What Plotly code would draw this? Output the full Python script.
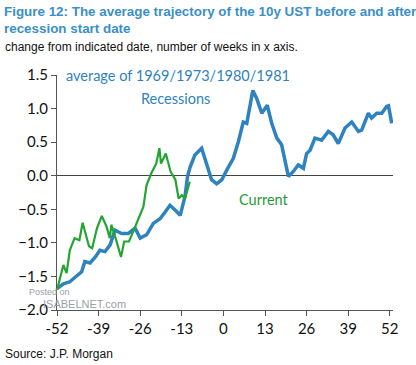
import plotly.graph_objects as go

# Average of 1969/1973/1980/1981 recessions
rec_weeks = [-52, -50, -48, -46, -44.3, -43.3, -41.7, -40, -38.6, -37, -35.4, -33.9, -31.8, -29.7,
             -27.6, -26, -24, -21.9, -19.8, -18.2, -16.7, -15.1, -13.5, -12, -11.2, -10.4, -8.9,
             -6.8, -5.2, -3.7, -2.1, -0.5, 1, 3.1, 4.7, 6.2, 7.3, 9.2, 10.4, 12, 13.7, 15.1, 16.7,
             18.2, 20.3, 21.8, 23.4, 25, 26, 27.1, 28.6, 30.7, 32.8, 34.3, 35.9, 38, 40.1, 42.2,
             43.2, 45.3, 46.3, 47.9, 49.5, 51, 51.6, 52.6]
rec_vals = [-1.68, -1.61, -1.58, -1.50, -1.43, -1.28, -1.30, -1.21, -1.11, -1.13, -1.03, -0.81,
            -0.86, -0.86, -0.78, -0.93, -0.88, -0.71, -0.64, -0.54, -0.44, -0.51, -0.59, -0.31,
            -0.01, 0.13, 0.31, 0.41, 0.18, -0.06, -0.12, -0.06, 0.08, 0.26, 0.51, 0.80, 0.78, 1.27,
            1.15, 0.93, 1.05, 0.78, 0.56, 0.46, -0.01, 0.06, 0.16, 0.11, 0.33, 0.38, 0.56, 0.53,
            0.66, 0.61, 0.48, 0.71, 0.80, 0.66, 0.68, 0.93, 0.86, 0.93, 0.93, 1.03, 1.04, 0.78]

# Current cycle
cur_weeks = [-52, -50, -49, -48, -46.5, -45, -44, -43, -42, -41, -39.5, -38, -36.5, -35.5, -35, -33.5,
             -32, -31, -29.5, -28, -26.5, -25, -24, -22.5, -21, -20, -19.5, -18, -16.5, -15, -14, -13,
             -12, -10.5]
cur_vals = [-1.70, -1.33, -1.45, -1.11, -0.93, -0.96, -0.70, -0.86, -1.05, -1.08, -0.78, -0.60, -0.76,
            -0.93, -0.73, -0.96, -1.21, -0.98, -0.98, -0.81, -0.63, -0.46, -0.14, 0.04, 0.18, 0.41,
            0.18, 0.33, 0.06, -0.06, -0.34, -0.29, -0.34, -0.09]

x_ticks = [-52, -39, -26, -13, 0, 13, 26, 39, 52]
y_ticks = [-2.0, -1.5, -1.0, -0.5, 0.0, 0.5, 1.0, 1.5]

BLUE = "#2f82c0"
GREEN = "#22a531"
TITLE_BLUE = "#3a8fc6"

fig = go.Figure()
fig.add_trace(go.Scatter(x=rec_weeks, y=rec_vals, mode="lines",
                         line=dict(color=BLUE, width=3.5), showlegend=False, cliponaxis=False))
fig.add_trace(go.Scatter(x=cur_weeks, y=cur_vals, mode="lines",
                         line=dict(color=GREEN, width=2.2), showlegend=False))

L, T, B, R = 57, 75, 55, 23
W, H = 416, 365
pw = W - L - R
ph = H - T - B


def px(x):
    return (x - L) / pw


def py(y):
    return (H - B - y) / ph


font_ticks = dict(family="Lato, 'Open Sans', sans-serif", size=15, color="#111")
narrow = "'Liberation Sans Narrow', 'Liberation Sans', Arial, sans-serif"

fig.update_layout(
    width=W, height=H,
    margin=dict(l=L, r=R, t=T, b=B, autoexpand=False),
    paper_bgcolor="white", plot_bgcolor="white",
    xaxis=dict(range=[-52, 53], tickvals=x_ticks, ticktext=[str(v) for v in x_ticks],
               showgrid=False, zeroline=False, showline=True, linecolor="#555", linewidth=1,
               ticks="outside", ticklen=5, tickcolor="#555", tickfont=font_ticks, automargin=False),
    yaxis=dict(range=[-2.0, 1.5], tickvals=y_ticks, tickformat=".1f",
               showgrid=False, zeroline=True, zerolinecolor="#444", zerolinewidth=1,
               showline=True, linecolor="#555", linewidth=1,
               ticks="outside", ticklen=5, tickcolor="#555", tickfont=font_ticks, automargin=False),
)

annotations = [
    dict(x=px(2), y=py(2), xanchor="left", yanchor="top",
         text="<b>Figure 12: The average trajectory of the 10y UST before and after<br>recession start date</b>",
         font=dict(family=narrow, size=13.4, color=TITLE_BLUE),
         align="left"),
    dict(x=px(3), y=py(38), xanchor="left", yanchor="top",
         text="change from indicated date, number of weeks in x axis.",
         font=dict(family=narrow, size=12, color="#111"),
         align="left"),
    dict(x=px(64), y=py(75), xanchor="left", yanchor="middle",
         text="average of 1969/1973/1980/1981",
         font=dict(family="Lato, 'Open Sans', sans-serif", size=14.5, color=BLUE)),
    dict(x=px(175), y=py(98), xanchor="center", yanchor="middle",
         text="Recessions",
         font=dict(family="Lato, 'Open Sans', sans-serif", size=14.5, color=BLUE)),
    dict(x=px(264), y=py(199), xanchor="center", yanchor="middle",
         text="Current",
         font=dict(family="Lato, 'Open Sans', sans-serif", size=14.5, color="#1f9a3a")),
    dict(x=px(3), y=py(354), xanchor="left", yanchor="middle",
         text="Source: J.P. Morgan",
         font=dict(family=narrow, size=12, color="#111")),
    dict(x=px(27), y=py(292), xanchor="left", yanchor="middle",
         text="Posted on",
         font=dict(family="'Liberation Sans', Arial, sans-serif", size=9, color="#9aa0a8")),
    dict(x=px(41), y=py(304), xanchor="left", yanchor="middle",
         text="ISABELNET.com",
         font=dict(family="'Liberation Sans', Arial, sans-serif", size=11, color="#9aa0a8")),
]
for a in annotations:
    a.update(xref="paper", yref="paper", showarrow=False)
fig.update_layout(annotations=annotations)

fig.write_html("out.html", config={"displayModeBar": False},
               post_script="document.body.style.margin='0';document.body.style.overflow='hidden';")
